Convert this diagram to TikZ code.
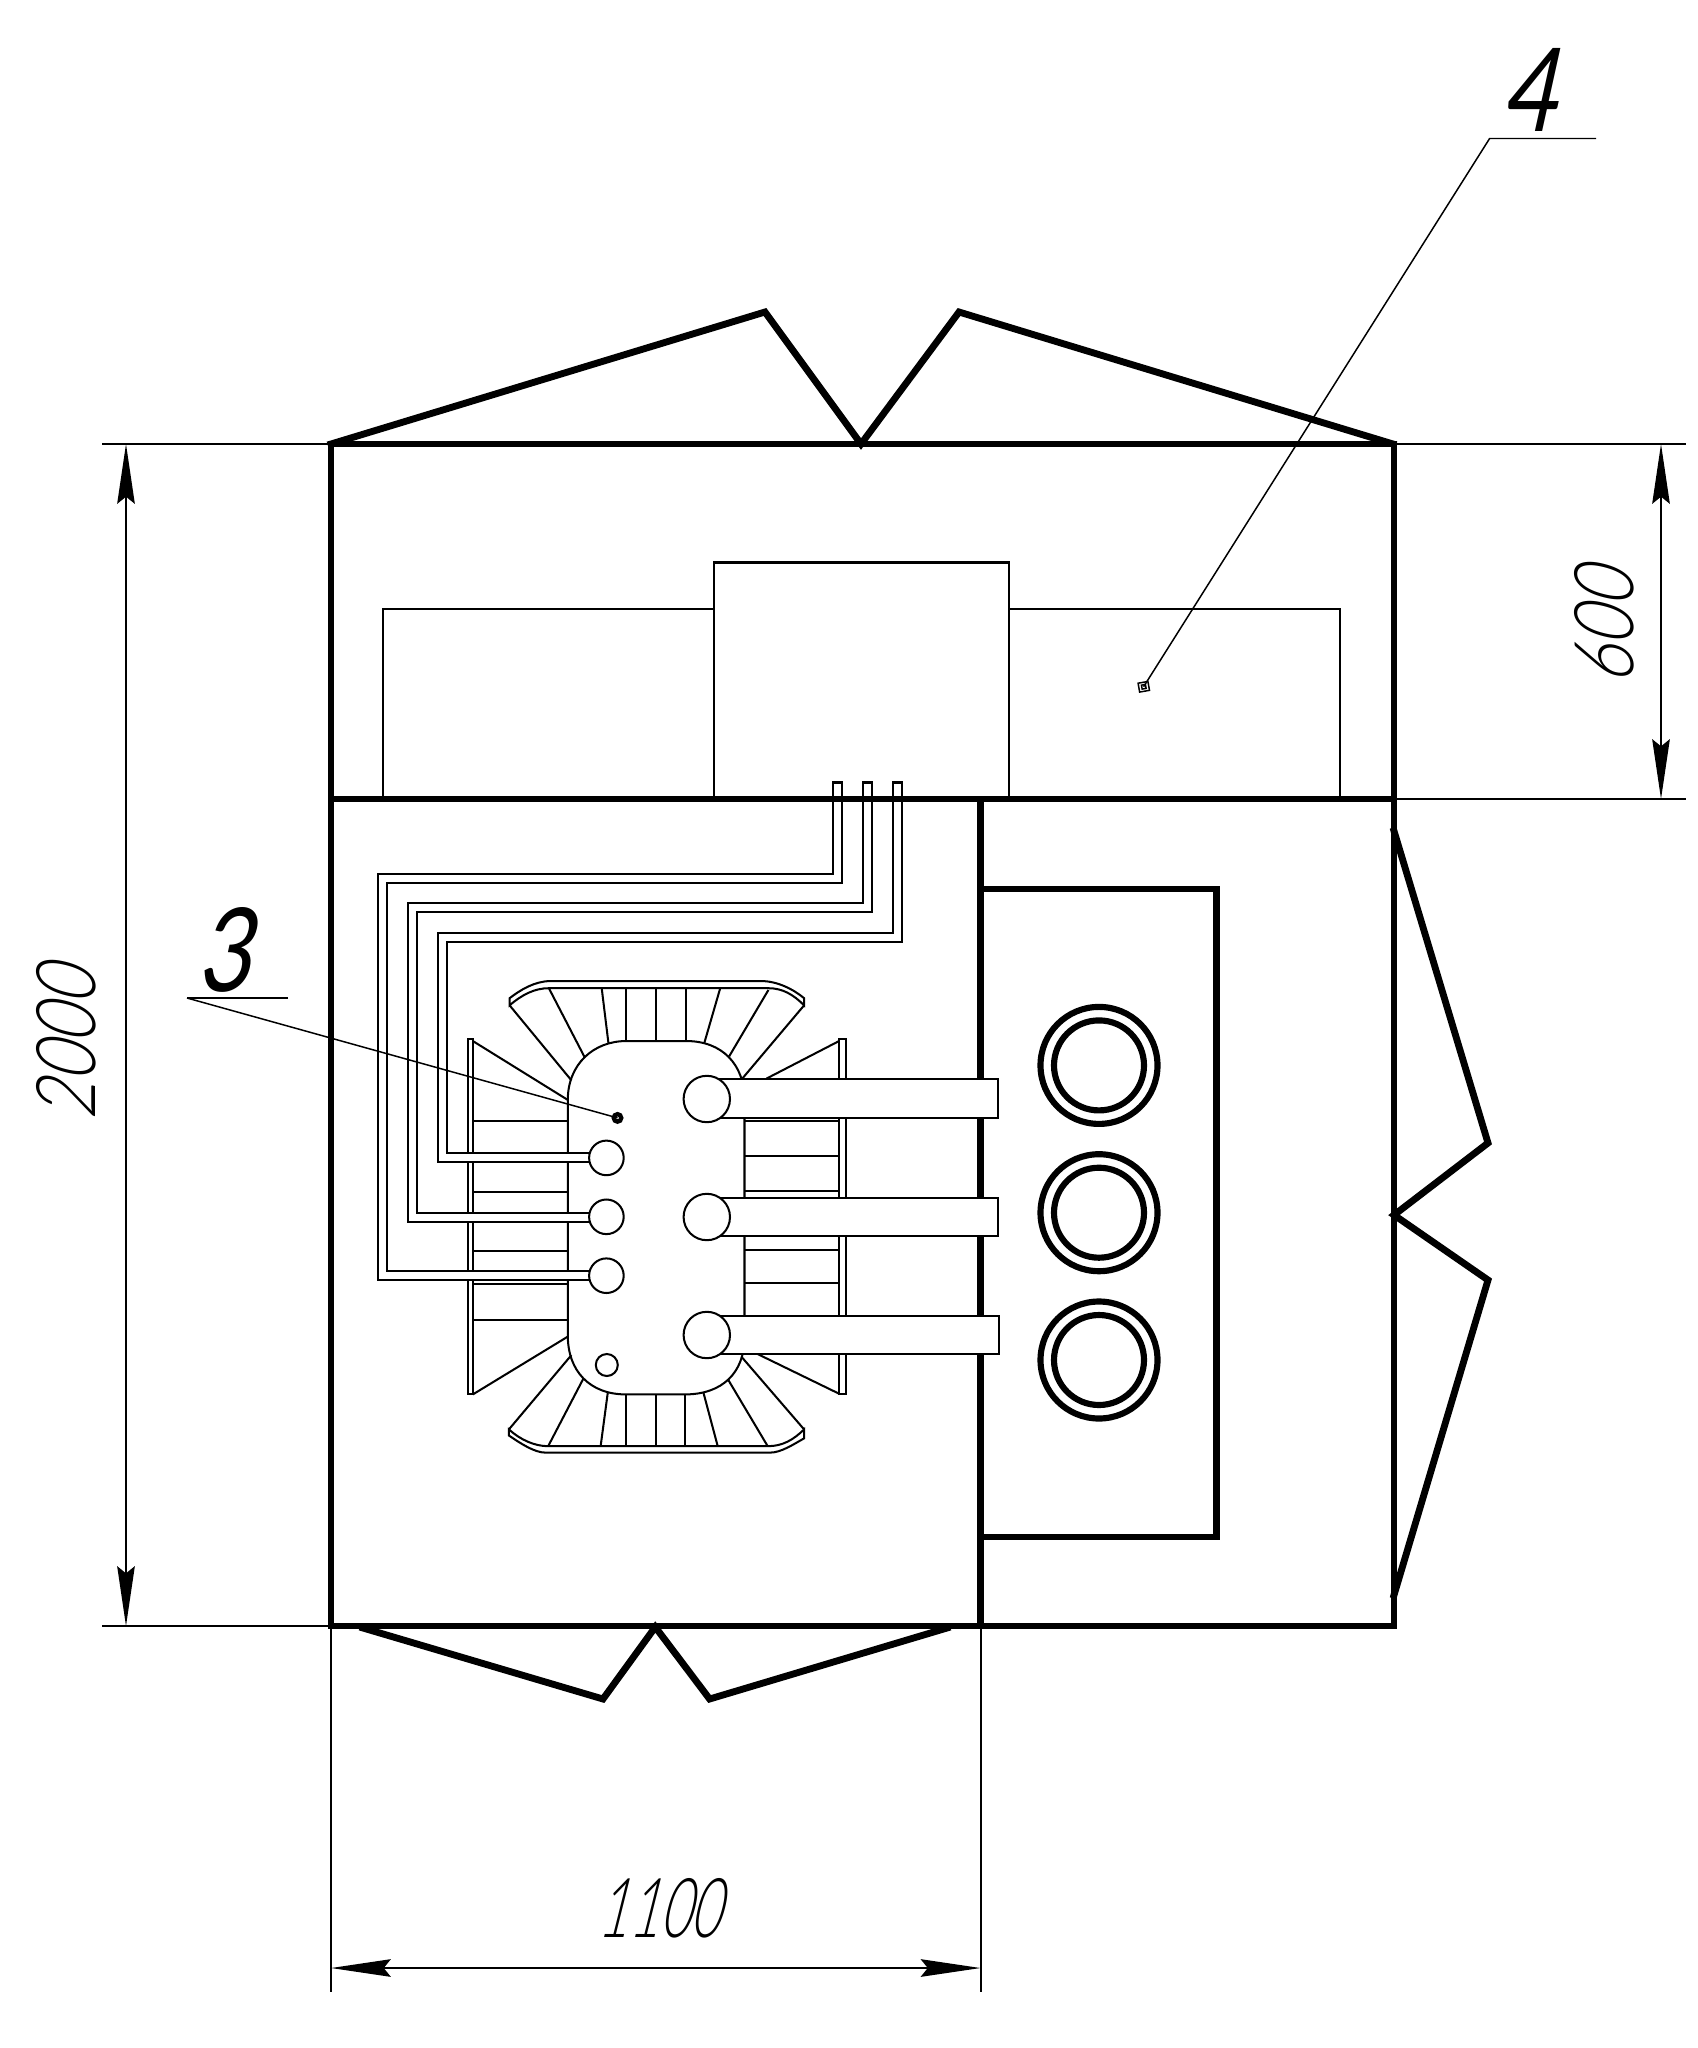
\documentclass[tikz,border=0pt]{standalone}
\usepackage{fontspec}
\usetikzlibrary{arrows.meta}
\newfontfamily\dimfont[FakeSlant=0.25,FakeStretch=0.8]{Lato Light}
\newfontfamily\dimnarrow[FakeSlant=0.25,FakeStretch=0.64]{Lato Light}
\newfontfamily\posfont[FakeSlant=0.22,FakeStretch=0.8]{Lato}
\tikzset{
  wall/.style={line width=3.9pt,line join=miter,line cap=rect},
  thin line/.style={line width=1.15pt},
  leader/.style={line width=0.85pt},
  dimline/.style={line width=1.15pt,{Stealth[length=34pt,width=10pt,inset=4pt]}-{Stealth[length=34pt,width=10pt,inset=4pt]}},
  ring/.style={line width=3.5pt},
  pipe/.style={line width=1.15pt,fill=white,line join=miter},
  dimtext/.style={inner sep=0pt,font=\dimfont\fontsize{47}{47}\selectfont},
  dimtextb/.style={inner sep=0pt,font=\dimnarrow\fontsize{47}{47}\selectfont},
  postext/.style={inner sep=0pt,font=\posfont\fontsize{66}{66}\selectfont},
}
\begin{document}
\begin{tikzpicture}[x=0.02cm,y=-0.02cm]
\useasboundingbox[fill=white] (0,0) rectangle (1697,2048);

% upper room
\draw[thin line] (383,799) -- (383,609) -- (714,609);
\draw[thin line] (714,799) -- (714,562.5) -- (1009,562.5) -- (1009,799);
\draw[thin line] (1009,609) -- (1339.5,609) -- (1339.5,799);

% outer walls and roofs
\draw[wall] (331,444) rectangle (1394,1626);
\draw[wall] (331,444) -- (765,312) -- (861,444) -- (959,312) -- (1393,444);
\draw[wall] (1394,831) -- (1488,1143) -- (1394,1215) -- (1488,1280) -- (1394,1595);
\draw[wall] (363,1628) -- (603,1699) -- (655.3,1627) -- (709.6,1699) -- (947,1628);
\draw[wall] (980.5,799) -- (980.5,1626);
\draw[wall] (980.5,889) -- (1216.7,889) -- (1216.7,1537) -- (980.5,1537);

% rings
\foreach \yy/\nn in {1065.4/a,1212.7/b,1360/c}{
  \draw[ring] (1099,\yy) circle[radius=58.5];
  \draw[ring] (1099,\yy) circle[radius=45];
}

% stair (coordinates of a 2.8x enlargement)
\begin{scope}[shift={(440,950)},x=0.0071429cm,y=-0.0071429cm,thin line]
  % rails and flights
  \draw (78,250) rectangle (92,1245);
  \draw (1118,250) rectangle (1138,1245);
  \draw (92,255) -- (358,420);
  \draw (92,1245) -- (358,1083);
  \draw (915,360) -- (1118,255);
  \draw (890,1132) -- (1118,1243);
  \foreach \yy in {478,677,843,935,1036} \draw (92,\yy) -- (358,\yy);
  \foreach \yy in {478,578,675,840,932} \draw (853,\yy) -- (1118,\yy);
  % top fan
  \draw (195,155) -- (195,135) .. controls (225,112) and (265,87) .. (310,87) -- (900,87)
        .. controls (945,87) and (990,110) .. (1020,135) -- (1020,155)
        .. controls (990,125) and (960,107) .. (920,107) -- (305,107)
        .. controls (265,107) and (230,125) .. (195,155) -- cycle;
  \foreach \a/\b/\c/\d in {368/365/195/155,405/300/305/107,472/262/453/107,522/255/522/107,606/255/606/107,690/255/690/107,740/262/785/107,810/298/920/112,847/360/1020/155}
    \draw (\a,\b) -- (\c,\d);
  % bottom fan
  \draw (193,1343) -- (193,1360) .. controls (225,1382) and (265,1408) .. (295,1408) -- (925,1408)
        .. controls (955,1408) and (990,1385) .. (1020,1368) -- (1020,1343)
        .. controls (990,1372) and (960,1390) .. (918,1390) -- (303,1390)
        .. controls (265,1390) and (225,1372) .. (193,1343) -- cycle;
  \foreach \a/\b/\c/\d in {368/1135/193/1343,402/1200/303/1390,470/1240/450/1390,521/1245/521/1390,605/1245/605/1390,686/1245/686/1390,738/1240/778/1390,808/1205/918/1390,845/1140/1020/1343}
    \draw (\a,\b) -- (\c,\d);
  % body
  \draw (358,420) .. controls (358,320) and (430,255) .. (522,255) -- (690,255)
        .. controls (790,255) and (853,320) .. (853,420) -- (853,1085)
        .. controls (853,1185) and (790,1245) .. (686,1245) -- (521,1245)
        .. controls (420,1245) and (358,1180) .. (358,1080) -- cycle;
\end{scope}

% small pipes
\draw[pipe] (833,782.5) -- (842,782.5) -- (842,883.2) -- (387,883.2) -- (387,1271.4) -- (595,1271.4) -- (595,1279.6) -- (378,1279.6) -- (378,874.3) -- (833,874.3) -- cycle;
\draw[pipe] (863,782.5) -- (872,782.5) -- (872,911.8) -- (417,911.8) -- (417,1213) -- (595,1213) -- (595,1221.8) -- (408,1221.8) -- (408,902.9) -- (863,902.9) -- cycle;
\draw[pipe] (893,782.5) -- (901.6,782.5) -- (901.6,942) -- (447,942) -- (447,1152.9) -- (595,1152.9) -- (595,1161.8) -- (438.4,1161.8) -- (438.4,933.2) -- (893,933.2) -- cycle;
\draw[wall] (331,799) -- (1394,799);

% big pipes
\draw[pipe] (715,1078.6) rectangle (998,1118);
\draw[pipe] (715,1197.5) rectangle (998,1235.7);
\draw[pipe] (715,1316) rectangle (999,1353.6);

% circles in the stair well
\foreach \yy in {1099,1217,1335} \draw[thin line,fill=white] (706.8,\yy) circle[radius=23.2];
\foreach \yy in {1157.9,1216.8,1275.7} \draw[thin line,fill=white] (606.4,\yy) circle[radius=17.3];
\draw[thin line,fill=white] (606.8,1365) circle[radius=11];

% leaders
\coordinate (shelf3a) at (187,998);
\coordinate (shelf3b) at (288,998);
\coordinate (tip3) at (617.5,1117.9);
\coordinate (shelf4a) at (1489.6,138.5);
\coordinate (shelf4b) at (1596,138.5);
\coordinate (tip4) at (1143.6,686.7);
\draw[thin line] (shelf3b) -- (shelf3a);
\draw[leader] (shelf3a) -- (tip3);
\draw[leader] (shelf4b) -- (shelf4a) -- (tip4);
\draw[thin line] (tip3) circle[radius=5] (tip3) circle[radius=2.5];
\draw[leader,rotate around={10:(tip4)}] ([shift={(-5,-4.5)}]tip4) rectangle ([shift={(5,4.5)}]tip4);
\draw[leader,rotate around={10:(tip4)}] ([shift={(-2,-2)}]tip4) rectangle ([shift={(2,2)}]tip4);
\node[postext] (lab3) at (223,950) {3};
\node[postext] (lab4) at (1528,90) {4};

% dimensions
\coordinate (ext1a) at (102,444); \coordinate (ext1b) at (331,444);
\coordinate (ext2a) at (102,1626); \coordinate (ext2b) at (331,1626);
\coordinate (ext3a) at (1394,444); \coordinate (ext3b) at (1686,444);
\coordinate (ext4a) at (1394,799); \coordinate (ext4b) at (1686,799);
\coordinate (ext5a) at (331,1626); \coordinate (ext5b) at (331,1992);
\coordinate (ext6a) at (980.5,1626); \coordinate (ext6b) at (980.5,1992);
\draw[thin line] (ext1a) -- (ext1b) (ext2a) -- (ext2b) (ext3a) -- (ext3b) (ext4a) -- (ext4b) (ext5a) -- (ext5b) (ext6a) -- (ext6b);
\coordinate (d1a) at (126,444); \coordinate (d1b) at (126,1626);
\coordinate (d2a) at (1661,444); \coordinate (d2b) at (1661,799);
\coordinate (d3a) at (331,1968); \coordinate (d3b) at (980.5,1968);
\draw[dimline] (d1a) -- (d1b);
\draw[dimline] (d2a) -- (d2b);
\draw[dimline] (d3a) -- (d3b);
\node[dimtext,rotate=90] (t2000) at (66,1044) {2000};
\node[dimtext,rotate=90] (t600) at (1604,627) {600};
\node[dimtextb] (t1100) at (659,1908) {1100};
\end{tikzpicture}
\end{document}
